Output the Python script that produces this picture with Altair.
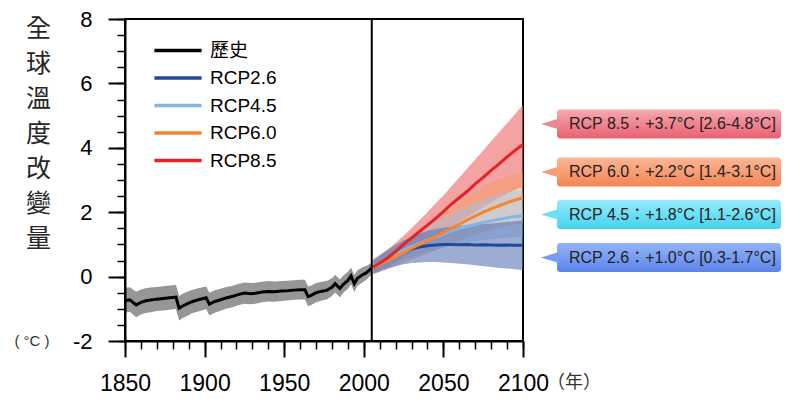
import altair as alt
import pandas as pd

# ---------------- data ----------------
hist_years = [1850, 1853, 1857, 1860, 1863, 1866, 1870, 1874, 1878, 1882,
              1884, 1886, 1889, 1892, 1896, 1901, 1903, 1906, 1910, 1913,
              1917, 1921, 1925, 1929, 1932, 1936, 1940, 1944, 1948, 1952,
              1956, 1960, 1963, 1965, 1967, 1970, 1973, 1977, 1980, 1982,
              1985, 1987, 1990, 1992, 1994, 1996, 1999, 2001, 2003, 2005]
hist_mean = [-0.75, -0.72, -0.88, -0.80, -0.75, -0.73, -0.70, -0.68, -0.66, -0.64,
             -0.98, -0.92, -0.85, -0.78, -0.72, -0.66, -0.86, -0.78, -0.72, -0.67,
             -0.62, -0.56, -0.51, -0.53, -0.52, -0.48, -0.46, -0.47, -0.45, -0.44,
             -0.42, -0.41, -0.41, -0.62, -0.58, -0.50, -0.46, -0.42, -0.33, -0.22,
             -0.37, -0.25, -0.12, 0.02, -0.22, -0.05, 0.05, 0.10, 0.18, 0.27]
hist_hi = [-0.35, -0.33, -0.47, -0.40, -0.36, -0.34, -0.32, -0.30, -0.28, -0.26,
           -0.60, -0.54, -0.47, -0.42, -0.36, -0.31, -0.50, -0.43, -0.38, -0.33,
           -0.29, -0.23, -0.18, -0.20, -0.19, -0.16, -0.14, -0.15, -0.14, -0.13,
           -0.11, -0.10, -0.10, -0.31, -0.28, -0.20, -0.17, -0.13, -0.05, 0.06,
           -0.09, 0.03, 0.15, 0.28, 0.05, 0.20, 0.28, 0.32, 0.37, 0.43]
hist_lo = [-1.12, -1.09, -1.26, -1.18, -1.13, -1.11, -1.07, -1.05, -1.03, -1.01,
           -1.36, -1.29, -1.22, -1.14, -1.08, -1.01, -1.21, -1.13, -1.06, -1.01,
           -0.96, -0.89, -0.84, -0.86, -0.84, -0.80, -0.77, -0.78, -0.76, -0.74,
           -0.72, -0.71, -0.71, -0.92, -0.88, -0.80, -0.75, -0.70, -0.60, -0.49,
           -0.64, -0.51, -0.38, -0.24, -0.48, -0.29, -0.18, -0.12, -0.03, 0.08]

proj_years = [2006, 2010, 2015, 2020, 2025, 2030, 2035, 2040, 2045, 2050,
              2055, 2060, 2065, 2070, 2075, 2080, 2085, 2090, 2095, 2100]

rcp26_mean = [0.28, 0.40, 0.55, 0.68, 0.78, 0.86, 0.92, 0.96, 0.98, 1.00,
              1.00, 0.99, 1.00, 0.98, 0.99, 0.98, 0.97, 0.98, 0.97, 0.97]
rcp26_hi = [0.50, 0.65, 0.82, 0.98, 1.12, 1.24, 1.34, 1.42, 1.48, 1.52,
            1.55, 1.57, 1.60, 1.62, 1.63, 1.65, 1.67, 1.70, 1.72, 1.75]
rcp26_lo = [0.08, 0.15, 0.25, 0.32, 0.38, 0.42, 0.44, 0.45, 0.45, 0.44,
            0.42, 0.40, 0.38, 0.35, 0.32, 0.30, 0.27, 0.25, 0.23, 0.20]

rcp45_mean = [0.30, 0.42, 0.56, 0.70, 0.82, 0.93, 1.03, 1.13, 1.22, 1.32,
              1.42, 1.50, 1.56, 1.62, 1.68, 1.73, 1.78, 1.83, 1.87, 1.90]
rcp45_hi = [0.52, 0.66, 0.82, 0.98, 1.12, 1.27, 1.42, 1.56, 1.70, 1.84,
            1.96, 2.08, 2.20, 2.30, 2.40, 2.48, 2.55, 2.62, 2.67, 2.70]
rcp45_lo = [0.10, 0.20, 0.30, 0.42, 0.52, 0.60, 0.68, 0.76, 0.83, 0.90,
            0.96, 1.00, 1.05, 1.10, 1.13, 1.16, 1.19, 1.21, 1.23, 1.25]

rcp60_mean = [0.28, 0.38, 0.50, 0.62, 0.75, 0.88, 1.00, 1.12, 1.24, 1.36,
              1.50, 1.62, 1.76, 1.88, 2.00, 2.10, 2.20, 2.30, 2.38, 2.45]
rcp60_hi = [0.50, 0.62, 0.78, 0.92, 1.08, 1.25, 1.42, 1.58, 1.75, 1.92,
            2.10, 2.28, 2.45, 2.62, 2.78, 2.92, 3.02, 3.10, 3.18, 3.22]
rcp60_lo = [0.08, 0.15, 0.22, 0.32, 0.42, 0.52, 0.62, 0.72, 0.82, 0.92,
            1.02, 1.12, 1.22, 1.30, 1.38, 1.45, 1.52, 1.58, 1.62, 1.66]

rcp85_mean = [0.30, 0.42, 0.58, 0.78, 1.00, 1.20, 1.40, 1.60, 1.80, 2.02,
              2.25, 2.45, 2.65, 2.88, 3.08, 3.30, 3.50, 3.72, 3.92, 4.10]
rcp85_hi = [0.55, 0.68, 0.85, 1.05, 1.27, 1.50, 1.75, 2.00, 2.27, 2.52,
            2.80, 3.08, 3.36, 3.64, 3.92, 4.20, 4.48, 4.76, 5.05, 5.33]
rcp85_lo = [0.10, 0.20, 0.30, 0.45, 0.60, 0.75, 0.90, 1.05, 1.20, 1.35,
            1.50, 1.68, 1.85, 2.00, 2.15, 2.30, 2.45, 2.58, 2.70, 2.80]

series_names = ["歷史", "RCP2.6", "RCP4.5", "RCP6.0", "RCP8.5"]
line_colors = ["#000000", "#1f4a9a", "#82b6e6", "#f5862e", "#e52228"]

callout_text = ["RCP 8.5：+3.7°C [2.6-4.8°C]",
                "RCP 6.0：+2.2°C [1.4-3.1°C]",
                "RCP 4.5：+1.8°C [1.1-2.6°C]",
                "RCP 2.6：+1.0°C [0.3-1.7°C]"]
callout_top = ["#f7a9b1", "#fcb696", "#95ecfb", "#94b4f8"]
callout_bottom = ["#e9616f", "#f38553", "#45d2ef", "#5b84ea"]
callout_mid = ["#ef8590", "#f89d74", "#6ddff5", "#789cf1"]

# ---------------- layout constants ----------------
W, H = 398, 322
RIGHT_PAD = 258
callout_cy = [105, 153, 195.5, 238.5]
BOX_HALF = 14.5

LATIN = "Liberation Sans, Arial, Noto Sans CJK TC"
CJK = "Noto Sans CJK TC"

# ---------------- tables ----------------
rows = [{"year": y, "value": v, "series": "歷史"} for y, v in zip(hist_years, hist_mean)]
for name, mean in [("RCP2.6", rcp26_mean), ("RCP4.5", rcp45_mean),
                   ("RCP6.0", rcp60_mean), ("RCP8.5", rcp85_mean)]:
    rows += [{"year": y, "value": v, "series": name} for y, v in zip(proj_years, mean)]
lines_df = pd.DataFrame(rows)

x_scale = alt.Scale(domain=[1850, 2100], nice=False, zero=False)
y_scale = alt.Scale(domain=[-2, 8], nice=False, zero=False)
color_scale = alt.Scale(domain=series_names, range=line_colors)


def band(years, lo, hi, color, opacity, xaxis=None, yaxis=None):
    df = pd.DataFrame({"year": years, "lo": lo, "hi": hi})
    return alt.Chart(df).mark_area(color=color, opacity=opacity).encode(
        x=alt.X("year:Q", scale=x_scale, axis=xaxis),
        y=alt.Y("lo:Q", scale=y_scale, axis=yaxis),
        y2="hi:Q",
    )


minor_x_axis = alt.Axis(orient="bottom", values=list(range(1850, 2101, 10)), labels=False,
                        domain=False, grid=False, tickSize=8, tickWidth=1.5,
                        tickColor="black", title=None, zindex=1)
minor_y_axis = alt.Axis(orient="left", values=[v / 2 for v in range(-4, 17)], labels=False,
                        domain=False, grid=False, tickSize=8, tickWidth=1.5,
                        tickColor="black", title=None, zindex=1)

hist_band = band(hist_years, hist_lo, hist_hi, "#969696", 1.0, minor_x_axis, minor_y_axis)
band85 = band(proj_years, rcp85_lo, rcp85_hi, "#ec6464", 0.6)
band60 = band(proj_years, rcp60_lo, rcp60_hi, "#f59a5c", 0.45)
band45 = band(proj_years, rcp45_lo, rcp45_hi, "#9cc4ec", 0.45)
band26 = band(proj_years, rcp26_lo, rcp26_hi, "#5470b4", 0.58)

main_x_axis = alt.Axis(orient="bottom", values=list(range(1850, 2101, 50)), labelExpr="datum.value",
                       grid=False, tickSize=16, tickWidth=2, tickColor="black",
                       domainColor="black", domainWidth=2, labelFont=LATIN, labelFontSize=23,
                       labelColor="black", labelPadding=15, labelFlush=False,
                       labelOverlap=False, title=None, zindex=1)
main_y_axis = alt.Axis(orient="left", values=list(range(-2, 9, 2)), labelExpr="datum.value",
                       grid=False, tickSize=17, tickWidth=2, tickColor="black",
                       domainColor="black", domainWidth=2, labelFont=LATIN, labelFontSize=22,
                       labelColor="black", labelPadding=16, labelFlush=False,
                       title=["全", "球", "溫", "度", "改", "變", "量"],
                       titleAngle=0, titleX=-87, titleY=17, titleAlign="center",
                       titleBaseline="alphabetic", titleLineHeight=35, titleFont=CJK,
                       titleFontSize=25, titleFontWeight="normal", titleColor="#262626",
                       zindex=1)

lines = alt.Chart(lines_df).mark_line(strokeWidth=3).encode(
    x=alt.X("year:Q", scale=x_scale, axis=main_x_axis),
    y=alt.Y("value:Q", scale=y_scale, axis=main_y_axis),
    color=alt.Color("series:N", scale=color_scale, sort=series_names,
                    legend=alt.Legend(title=None, orient="none", legendX=43.5, legendY=22,
                                      symbolType="M-5.9,0H5.9", symbolSize=64,
                                      symbolStrokeWidth=3.5, labelOffset=22.5,
                                      labelFont=LATIN, labelFontSize=19, labelColor="black",
                                      rowPadding=7.5, padding=0)),
    order=alt.Order("year:Q"),
)

rule_df = pd.DataFrame({"year": [2005]})
rule2005 = alt.Chart(rule_df).mark_rule(color="black", strokeWidth=2).encode(
    x=alt.X("year:Q", scale=x_scale, axis=None)
)

layers = [hist_band, band85, band60, band45, band26, lines, rule2005]

for i, txt in enumerate(callout_text):
    cy = callout_cy[i]
    df = pd.DataFrame({"label": [txt]})
    grad = alt.Gradient(gradient="linear", x1=0, x2=0, y1=0, y2=1,
                        stops=[alt.GradientStop(color=callout_top[i], offset=0),
                               alt.GradientStop(color=callout_bottom[i], offset=1)])
    base = alt.Chart(df)
    layers.append(base.mark_rect(fill=grad, cornerRadius=3).encode(
        x=alt.value(432), x2=alt.value(W + RIGHT_PAD), y=alt.value(cy - BOX_HALF),
        y2=alt.value(cy + BOX_HALF)))
    layers.append(base.mark_point(shape="M1,-0.6L-1,0L1,0.6Z", filled=True, fill=callout_mid[i],
                                  opacity=1, size=324, strokeWidth=0).encode(
        x=alt.value(425), y=alt.value(cy)))
    layers.append(base.mark_text(align="left", baseline="middle", font=LATIN, fontSize=16,
                                 color="#222222").encode(
        x=alt.value(444), y=alt.value(cy), text="label:N"))

unit_df = pd.DataFrame({"label": ["( °C )"]})
layers.append(alt.Chart(unit_df).mark_text(align="center", baseline="middle", font=LATIN,
                                           fontSize=15, color="#333333").encode(
    x=alt.value(-93), y=alt.value(H), text="label:N"))
year_df = pd.DataFrame({"label": ["（年）"]})
layers.append(alt.Chart(year_df).mark_text(align="center", baseline="middle", font=CJK,
                                           fontSize=18, color="#333333").encode(
    x=alt.value(W + 51), y=alt.value(H + 42), text="label:N"))

chart = alt.layer(*layers).resolve_axis(x="independent", y="independent").properties(
    width=W, height=H,
    autosize=alt.AutoSizeParams(type="none"),
    padding={"left": 117, "top": 11, "right": RIGHT_PAD, "bottom": 56},
).configure_view(stroke="black", strokeWidth=2)

chart.save("out.html", embed_options={"renderer": "svg", "actions": False})
